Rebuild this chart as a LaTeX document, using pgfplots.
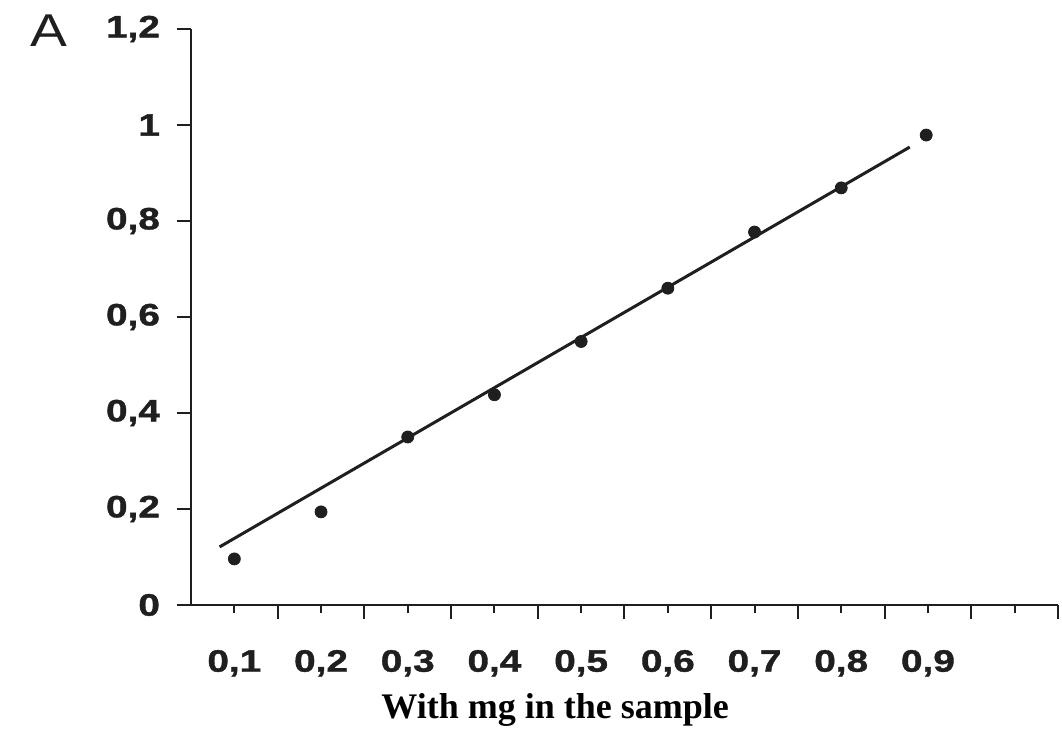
\documentclass[border=0pt]{standalone}
\usepackage{fontspec}
\setmainfont{Liberation Serif}
\newfontfamily\tickfont[FakeStretch=1.25,FakeBold=1.2]{Liberation Sans}
\newfontfamily\afont[FakeStretch=1.2]{Liberation Sans}
\usepackage{pgfplots}
\pgfplotsset{compat=1.18}
\definecolor{ink}{gray}{0.12}

\begin{document}
\begin{tikzpicture}
% frame of the reference image, 1px = 0.5pt, origin at the axis corner
\path[use as bounding box] (-95.5pt,-64.5pt) rectangle (435.5pt,302.5pt);
\begin{axis}[
    scale only axis,
    width=433.5pt, height=288pt,
    xmin=0.05, xmax=1.05,
    ymin=0, ymax=1.2,
    axis x line=bottom, axis y line=left,
    axis line style={-, line width=1pt, ink},
    tick align=outside,
    major tick length=4pt,
    minor tick length=7pt,
    every tick/.style={line width=1pt, ink},
    xtick={0.1,0.2,0.3,0.4,0.5,0.6,0.7,0.8,0.9,1.0},
    xticklabels={{0,1},{0,2},{0,3},{0,4},{0,5},{0,6},{0,7},{0,8},{0,9},{}},
    minor xtick={0.15,0.25,0.35,0.45,0.55,0.65,0.75,0.85,0.95,1.05},
    ytick={0,0.2,0.4,0.6,0.8,1,1.2},
    yticklabels={0,{0,2},{0,4},{0,6},{0,8},1,{1,2}},
    minor ytick={0,0.2,0.4,0.6,0.8,1,1.2},
    ticklabel style={font=\tickfont\bfseries\fontsize{15.5}{18}\selectfont, text=ink},
    xticklabel style={yshift=-15pt},
    yticklabel style={xshift=-8pt},
    xlabel={With mg in the sample},
    xlabel style={font=\bfseries\fontsize{18}{21}\selectfont, anchor=base,
        at={(rel axis cs:0.42,0)}, yshift=-56.5pt},
    clip=false,
]
\addplot[only marks, mark=*, mark size=3pt, ink] coordinates {
    (0.1,0.096) (0.2,0.194) (0.3,0.35) (0.4,0.438) (0.5,0.549)
    (0.6,0.66) (0.7,0.777) (0.8,0.869) (0.898,0.979)
};
\addplot[line width=1.5pt, ink] coordinates {(0.083,0.121) (0.879,0.954)};
\end{axis}
\node[anchor=base west, font=\afont\fontsize{23}{27}\selectfont, text=ink, inner sep=0pt]
    at (-80.5pt,279pt) {A};
\end{tikzpicture}
\end{document}
